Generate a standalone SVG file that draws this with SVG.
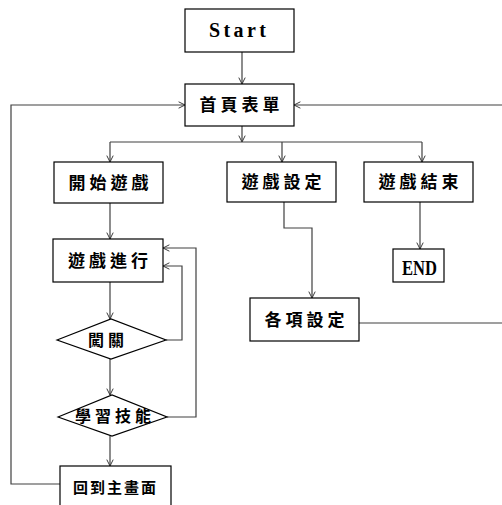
<svg xmlns="http://www.w3.org/2000/svg" width="502" height="505" viewBox="0 0 502 505">
<defs>
<marker id="arr" viewBox="0 0 10 10" refX="9" refY="5" markerWidth="8" markerHeight="8" orient="auto" markerUnits="userSpaceOnUse">
<path d="M1,1 L9,5 L1,9" fill="none" stroke="#333" stroke-width="1.2"/>
</marker>
<style>
.box{fill:#fff;stroke:#000;stroke-width:1.2}
.c{fill:none;stroke:#404040;stroke-width:1.2}
.t{font-family:"Liberation Serif","Noto Sans CJK TC",serif;font-weight:bold;font-size:17px;fill:#000;text-anchor:middle;dominant-baseline:central;letter-spacing:4px}
.m{font-family:"Liberation Serif",serif;font-weight:bold;font-size:20px;fill:#000}
</style>
</defs>
<rect width="502" height="505" fill="#fff"/>
<g id="connectors">
<path class="c" d="M242,52 V84" marker-end="url(#arr)"/>
<path class="c" d="M242,126 V142" marker-end="url(#arr)"/>
<path class="c" d="M110,142 H422"/>
<path class="c" d="M110,142 V162" marker-end="url(#arr)"/>
<path class="c" d="M282,142 V162" marker-end="url(#arr)"/>
<path class="c" d="M422,142 V162" marker-end="url(#arr)"/>
<path class="c" d="M110,203 V239" marker-end="url(#arr)"/>
<path class="c" d="M110,282 V319" marker-end="url(#arr)"/>
<path class="c" d="M110,359 V395" marker-end="url(#arr)"/>
<path class="c" d="M110,436 V466" marker-end="url(#arr)"/>
<path class="c" d="M166,340 H182 V266 H163" marker-end="url(#arr)"/>
<path class="c" d="M167,417 H196 V248 H163" marker-end="url(#arr)"/>
<path class="c" d="M60,484 H11 V105 H185" marker-end="url(#arr)"/>
<path class="c" d="M284,202 V228 H312 V298" marker-end="url(#arr)"/>
<path class="c" d="M420,202 V249" marker-end="url(#arr)"/>
<path class="c" d="M359,323 H504 V105 H294" marker-end="url(#arr)"/>
</g>
<g id="start"><rect class="box" x="185" y="9" width="109" height="43"/><text class="m" x="209" y="37" textLength="57" lengthAdjust="spacing">Start</text></g>
<g id="home"><rect class="box" x="185" y="84" width="109" height="42"/><text class="t" x="241.5" y="105">首頁表單</text></g>
<g id="begin"><rect class="box" x="54" y="162" width="109" height="41"/><text class="t" x="110.5" y="183">開始遊戲</text></g>
<g id="settings"><rect class="box" x="227" y="162" width="109" height="40"/><text class="t" x="283.5" y="182">遊戲設定</text></g>
<g id="end-game"><rect class="box" x="364" y="162" width="109" height="40"/><text class="t" x="420.5" y="182">遊戲結束</text></g>
<g id="end"><rect class="box" x="393" y="249" width="51" height="33"/><text class="m" x="402" y="275" style="font-size:21px" textLength="35" lengthAdjust="spacingAndGlyphs">END</text></g>
<g id="playing"><rect class="box" x="53" y="239" width="110" height="43"/><text class="t" x="110" y="261">遊戲進行</text></g>
<g id="items"><rect class="box" x="250" y="298" width="109" height="43"/><text class="t" x="306.5" y="320">各項設定</text></g>
<g id="level"><polygon class="box" points="57,340 111,319 166,340 111,359"/><text class="t" x="108" y="340" style="font-size:16px">闖關</text></g>
<g id="skill"><polygon class="box" points="58,417 112,395 167,417 112,436"/><text class="t" x="115" y="416" style="font-size:16px">學習技能</text></g>
<g id="back"><rect class="box" x="60" y="466" width="111" height="45"/><text class="t" x="115.5" y="488" style="font-size:15px;letter-spacing:2px">回到主畫面</text></g>
</svg>
